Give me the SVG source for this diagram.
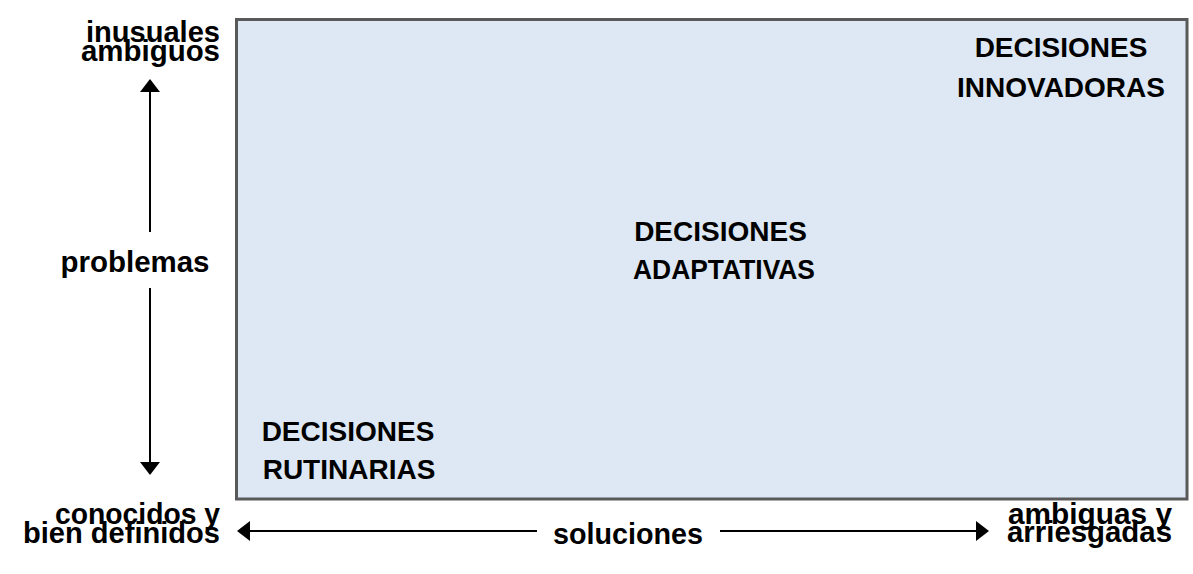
<svg xmlns="http://www.w3.org/2000/svg" width="1193" height="574" viewBox="0 0 1193 574">
  <style>
    .lbl { font-family: "Liberation Sans", Arial, sans-serif; font-size: 30px; font-weight: bold; fill: #000; }
    .dec { font-family: "Liberation Sans", Arial, sans-serif; font-size: 28px; font-weight: bold; fill: #000; text-anchor: middle; }
    .arr { stroke: #000; stroke-width: 2; fill: none; marker-end: url(#ah); }
  </style>
  <defs>
    <marker id="ah" markerUnits="userSpaceOnUse" markerWidth="14" markerHeight="20" refX="0" refY="10" orient="auto">
      <path d="M0,0 L13,10 L0,20 Z" fill="#000"/>
    </marker>
  </defs>
  <rect width="1193" height="574" fill="#fff"/>
  <g id="field">
    <rect x="236.5" y="19.5" width="950.5" height="479.5" fill="#dde8f4" stroke="#595959" stroke-width="3"/>
  </g>
  <g id="innovadoras">
    <text class="dec" x="1061" y="57">DECISIONES</text>
    <text class="dec" x="1061" y="96.5">INNOVADORAS</text>
  </g>
  <g id="adaptativas">
    <text class="dec" x="720.5" y="241">DECISIONES</text>
    <text class="dec" x="724" y="279" textLength="182" lengthAdjust="spacingAndGlyphs">ADAPTATIVAS</text>
  </g>
  <g id="rutinarias">
    <text class="dec" x="348" y="441">DECISIONES</text>
    <text class="dec" x="349" y="479">RUTINARIAS</text>
  </g>
  <g id="connectors">
    <path class="arr" d="M150,232 L150,92"/>
    <path class="arr" d="M150,288 L150,462"/>
    <path class="arr" d="M537,531 L250,531"/>
    <path class="arr" d="M720,531 L976,531"/>
  </g>
  <g id="axis-y">
    <text class="lbl" x="220" y="42" text-anchor="end" textLength="134" lengthAdjust="spacingAndGlyphs">inusuales</text>
    <text class="lbl" x="220" y="61" text-anchor="end" textLength="139" lengthAdjust="spacingAndGlyphs">ambiguos</text>
    <text class="lbl" x="135" y="272" text-anchor="middle" textLength="149" lengthAdjust="spacingAndGlyphs">problemas</text>
    <text class="lbl" x="220" y="524" text-anchor="end" textLength="165" lengthAdjust="spacingAndGlyphs">conocidos y</text>
    <text class="lbl" x="220" y="543" text-anchor="end" textLength="197" lengthAdjust="spacingAndGlyphs">bien definidos</text>
  </g>
  <g id="axis-x">
    <text class="lbl" x="628" y="544" text-anchor="middle" textLength="150" lengthAdjust="spacingAndGlyphs">soluciones</text>
    <text class="lbl" x="1172" y="524" text-anchor="end" textLength="164" lengthAdjust="spacingAndGlyphs">ambiguas y</text>
    <text class="lbl" x="1172" y="542" text-anchor="end" textLength="165" lengthAdjust="spacingAndGlyphs">arriesgadas</text>
  </g>
</svg>
